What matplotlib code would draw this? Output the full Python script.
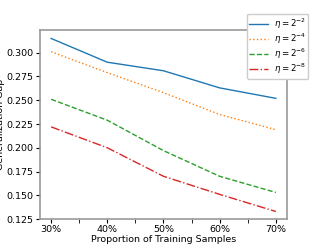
import matplotlib
matplotlib.use("Agg")
import matplotlib.pyplot as plt

# ---------- Data ----------
proportions = [0.30, 0.40, 0.50, 0.60, 0.70]
tick_labels = ["30%", "40%", "50%", "60%", "70%"]
gap_eta2 = [0.315, 0.290, 0.281, 0.263, 0.252]
gap_eta4 = [0.301, 0.279, 0.258, 0.235, 0.219]
gap_eta6 = [0.251, 0.229, 0.197, 0.170, 0.153]
gap_eta8 = [0.222, 0.200, 0.170, 0.151, 0.133]
series_labels = [r"$\eta=2^{-2}$", r"$\eta=2^{-4}$", r"$\eta=2^{-6}$", r"$\eta=2^{-8}$"]

plt.rcParams["font.size"] = 6.8

fig = plt.figure(figsize=(3.19, 2.47), dpi=100)
ax = fig.add_axes([0.125, 0.113, 0.775, 0.766])

styles = [("#1f77b4", "-"), ("#ff7f0e", ":"), ("#2ca02c", "--"), ("#d62728", "-.")]
for ys, lab, (c, ls) in zip([gap_eta2, gap_eta4, gap_eta6, gap_eta8], series_labels, styles):
    ax.plot(proportions, ys, color=c, linestyle=ls, linewidth=1.0, label=lab)

ax.set_xlim(0.28, 0.72)
ax.set_ylim(0.125, 0.324)
ax.set_xticks(proportions)
ax.set_xticklabels(tick_labels)
ax.set_xticks([0.35, 0.45, 0.55, 0.65], minor=True)
ax.tick_params(axis="both", which="both", length=3, pad=1.5)
ax.set_yticks([0.125, 0.150, 0.175, 0.200, 0.225, 0.250, 0.275, 0.300])
ax.set_yticklabels(["%.3f" % v for v in ax.get_yticks()])
for s in ax.spines.values():
    s.set_color("#999999")
    s.set_linewidth(1.2)

ax.set_xlabel("Proportion of Training Samples", labelpad=0.5)
ax.set_ylabel("Generalization Gap", labelpad=1)

fig.legend(loc="upper right", bbox_to_anchor=(0.98, 0.962), fontsize=6.2,
           handlelength=2.1, handletextpad=0.7, borderpad=0.3,
           labelspacing=0.1, framealpha=1.0)

fig.savefig("out.png", dpi=100)
